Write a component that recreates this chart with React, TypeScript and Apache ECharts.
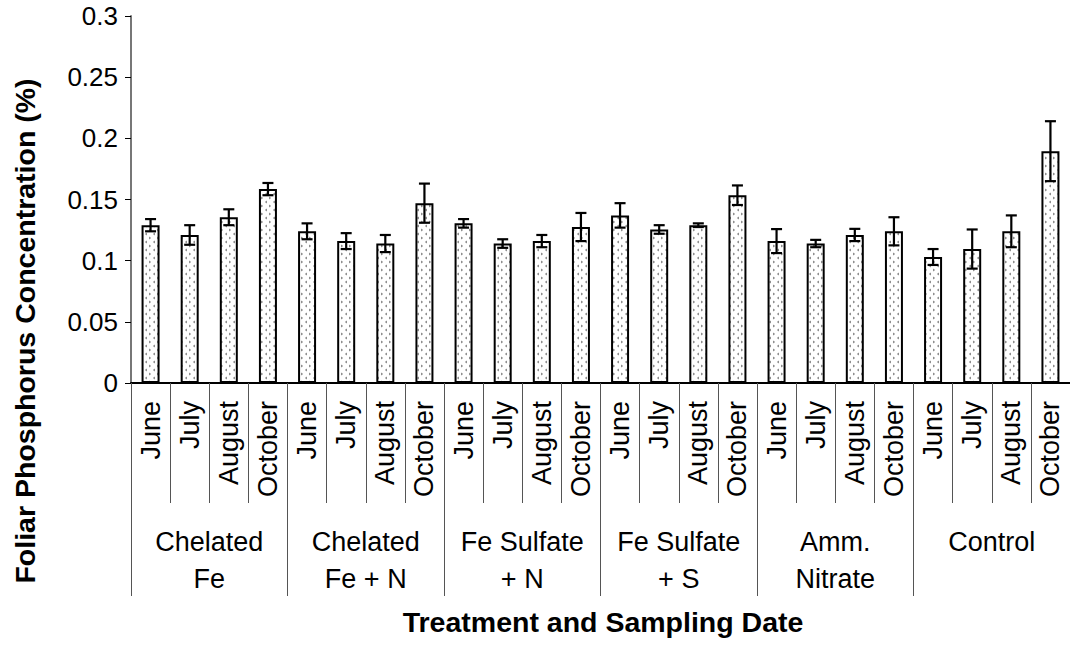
import React, { useEffect, useRef } from "react";
import * as echarts from "echarts";

const treatments = ["Chelated\nFe", "Chelated\nFe + N", "Fe Sulfate\n+ N", "Fe Sulfate\n+ S", "Amm.\nNitrate", "Control"];
const months = ["June", "July", "August", "October"];
const values = [
  0.129, 0.121, 0.1355, 0.1585,
  0.124, 0.116, 0.114, 0.147,
  0.1305, 0.114, 0.116, 0.1275,
  0.137, 0.1255, 0.129, 0.1535,
  0.116, 0.114, 0.121, 0.124,
  0.103, 0.1095, 0.124, 0.1895,
];
const errors = [
  0.005, 0.008, 0.0065, 0.005,
  0.0065, 0.0065, 0.007, 0.016,
  0.0035, 0.0035, 0.005, 0.0115,
  0.01, 0.0035, 0.0015, 0.008,
  0.0098, 0.003, 0.005, 0.0115,
  0.0065, 0.016, 0.013, 0.0245,
];
const yTicks = { min: 0, max: 0.3, interval: 0.05 };

const FONT = "'Liberation Sans', Arial, Helvetica, sans-serif";

function makePattern() {
  const c = document.createElement("canvas");
  c.width = 8;
  c.height = 8;
  const ctx = c.getContext("2d")!;
  ctx.fillStyle = "#ffffff";
  ctx.fillRect(0, 0, 8, 8);
  ctx.strokeStyle = "#7a7a7a";
  ctx.lineWidth = 1;
  ctx.beginPath();
  ctx.moveTo(3, 1);
  ctx.lineTo(1.5, 2);
  ctx.lineTo(3, 3);
  ctx.moveTo(5, 5);
  ctx.lineTo(6.5, 6);
  ctx.lineTo(5, 7);
  ctx.stroke();
  return c;
}

export default function App() {
  const ref = useRef<HTMLDivElement>(null);
  useEffect(() => {
    if (!ref.current) return;
    const chart = echarts.init(ref.current, undefined, { renderer: "svg" });
    const cats: string[] = [];
    treatments.forEach(() => months.forEach((m) => cats.push(m)));
    const pattern = makePattern();
    const errData = values.map((v, i) => [i, v - errors[i], v + errors[i]]);
    chart.setOption({
      animation: false,
      grid: { left: 131, top: 16, right: -6, bottom: 263, containLabel: false },
      xAxis: [
        {
          type: "category",
          data: cats,
          axisLine: { show: true, lineStyle: { color: "#000", width: 2 } },
          axisTick: { show: true, length: 120, interval: 0, lineStyle: { color: "#555", width: 1 } },
          axisLabel: {
            interval: 0,
            rotate: 90,
            margin: 18,
            fontSize: 27,
            color: "#000",
            fontFamily: FONT,
          },
        },
        {
          type: "category",
          data: treatments,
          position: "bottom",
          axisLine: { show: false },
          axisTick: { show: true, length: 213, interval: 0, lineStyle: { color: "#555", width: 1 } },
          axisLabel: {
            interval: 0,
            margin: 140,
            fontSize: 27,
            lineHeight: 37,
            color: "#000",
            fontFamily: FONT,
          },
        },
      ],
      yAxis: {
        type: "value",
        min: yTicks.min,
        max: yTicks.max,
        interval: yTicks.interval,
        splitLine: { show: false },
        axisLine: { show: true, lineStyle: { color: "#777", width: 2 } },
        axisTick: { show: true, length: 6, lineStyle: { color: "#000", width: 1 } },
        axisLabel: { margin: 13, fontSize: 26, color: "#000", fontFamily: FONT },
      },
      series: [
        {
          type: "bar",
          data: values,
          xAxisIndex: 0,
          barWidth: 18,
          itemStyle: {
            color: { image: pattern, repeat: "repeat", imageWidth: 8, imageHeight: 8 },
            borderColor: "#000",
            borderWidth: 2,
          },
          z: 2,
        },
        {
          type: "custom",
          xAxisIndex: 0,
          data: errData,
          z: 3,
          renderItem: (params: any, api: any) => {
            const x = api.value(0);
            const lo = api.coord([x, api.value(1)]);
            const hi = api.coord([x, api.value(2)]);
            const hw = 5.5;
            const style = { stroke: "#000", lineWidth: 2.2, fill: "none" };
            return {
              type: "group",
              children: [
                { type: "line", shape: { x1: hi[0], y1: hi[1], x2: lo[0], y2: lo[1] }, style },
                { type: "line", shape: { x1: hi[0] - hw, y1: hi[1], x2: hi[0] + hw, y2: hi[1] }, style },
                { type: "line", shape: { x1: lo[0] - hw, y1: lo[1], x2: lo[0] + hw, y2: lo[1] }, style },
              ],
            };
          },
        },
      ],
      graphic: [
        {
          type: "text",
          x: 25,
          y: 331,
          rotation: Math.PI / 2,
          style: {
            text: "Foliar Phosphorus Concentration (%)",
            fontSize: 28.5,
            fontWeight: "bold",
            fontFamily: FONT,
            fill: "#000",
            align: "center",
            verticalAlign: "middle",
          },
        },
        {
          type: "text",
          x: 603,
          y: 622,
          style: {
            text: "Treatment and Sampling Date",
            fontSize: 28.5,
            fontWeight: "bold",
            fontFamily: FONT,
            fill: "#000",
            align: "center",
            verticalAlign: "middle",
          },
        },
      ],
    });
    return () => chart.dispose();
  }, []);
  return (
    <div
      ref={ref}
      style={{ position: "absolute", left: 0, top: 0, width: 1070, height: 646 }}
    />
  );
}
